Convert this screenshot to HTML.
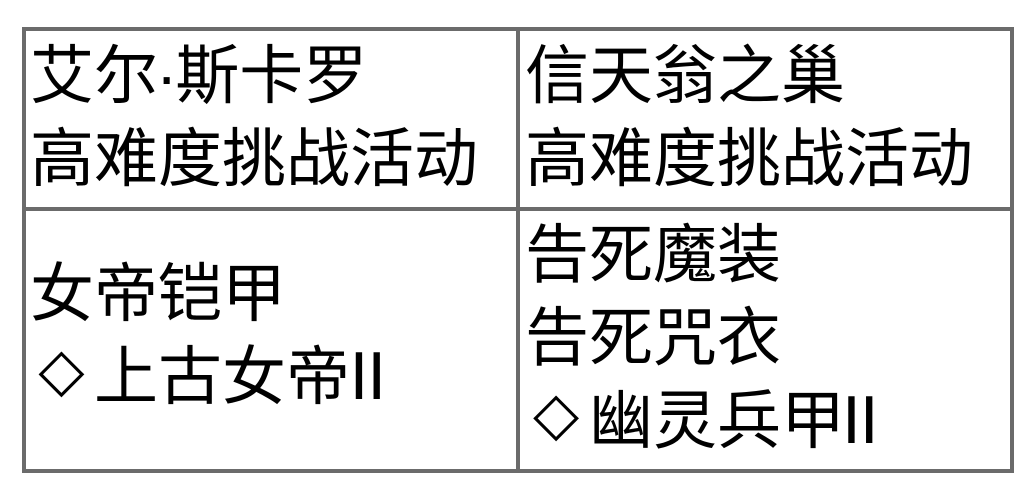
<!DOCTYPE html>
<html><head><meta charset="utf-8"><style>
html,body{margin:0;padding:0;background:#fff}
body{width:1036px;height:504px;position:relative;overflow:hidden}
.l{position:absolute;background:#6b6b6b}
.t{position:absolute;font:64px/84px "WenQuanYi Zen Hei","Liberation Sans",sans-serif;color:#000;white-space:nowrap;height:84px}
.d{font:60px/84px "DejaVu Sans",sans-serif}
.i{font:68px/84px "Liberation Sans",sans-serif;letter-spacing:-1.2px}
.dot{margin:0 -2px}
</style></head><body>
<div class="l" style="left:22px;top:27px;width:992px;height:4px"></div>
<div class="l" style="left:22px;top:207px;width:992px;height:4px"></div>
<div class="l" style="left:22px;top:469px;width:992px;height:4px"></div>
<div class="l" style="left:22px;top:27px;width:4px;height:446px"></div>
<div class="l" style="left:516px;top:27px;width:4px;height:446px"></div>
<div class="l" style="left:1010px;top:27px;width:4px;height:446px"></div>
<div class="t" style="left:30px;top:34px">艾尔<span class="dot">·</span>斯卡罗</div>
<div class="t" style="left:30px;top:117px">高难度挑战活动</div>
<div class="t" style="left:30px;top:252px">女帝铠甲</div>
<div class="t d" style="left:38.4px;top:328.4px">◇</div>
<div class="t" style="left:94px;top:335px">上古女帝</div>
<div class="t i" style="left:349.5px;top:333.5px">II</div>
<div class="t" style="left:525px;top:34px">信天翁之巢</div>
<div class="t" style="left:525px;top:117px">高难度挑战活动</div>
<div class="t" style="left:525px;top:213px">告死魔装</div>
<div class="t" style="left:525px;top:296px">告死咒衣</div>
<div class="t d" style="left:533px;top:372.4px">◇</div>
<div class="t" style="left:589px;top:379px">幽灵兵甲</div>
<div class="t i" style="left:842px;top:377.5px">II</div>
</body></html>
